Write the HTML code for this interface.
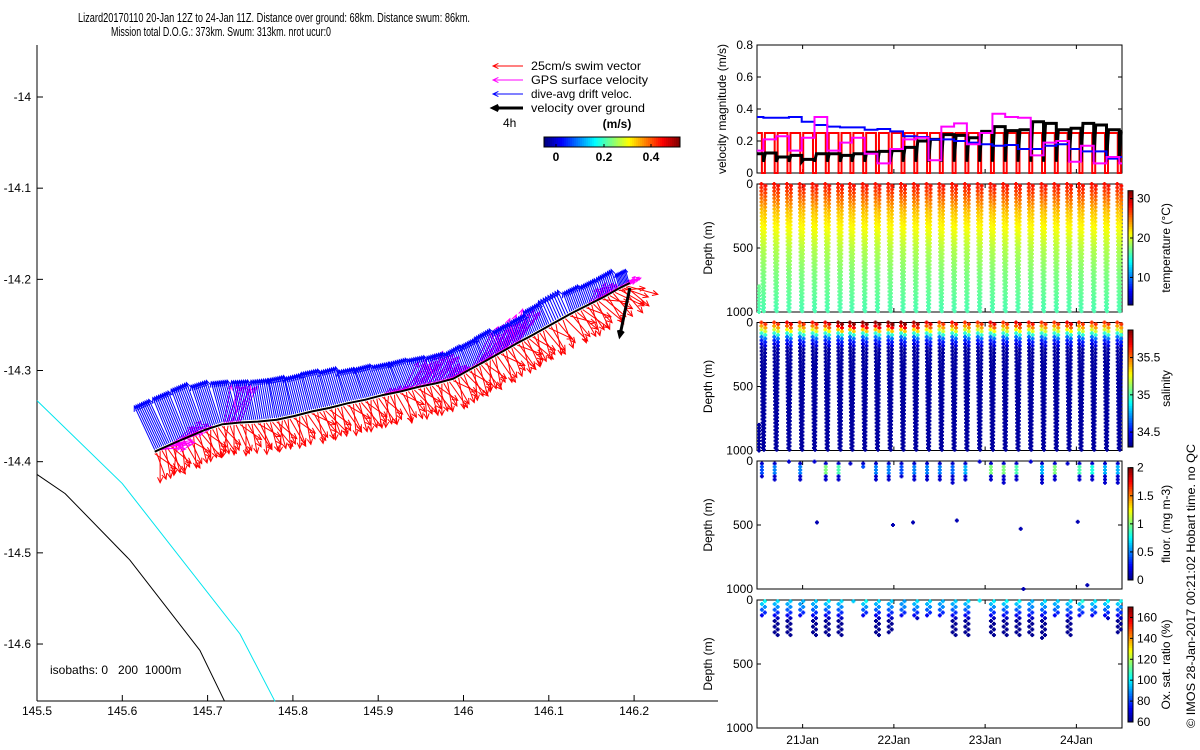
<!DOCTYPE html>
<html><head><meta charset="utf-8">
<style>
html,body{margin:0;padding:0;background:#fff;}
svg{display:block;font-family:"Liberation Sans",sans-serif;}
</style></head>
<body>
<svg id="chart" width="1200" height="750" viewBox="0 0 1200 750" xmlns="http://www.w3.org/2000/svg">
<text x="78" y="22" font-size="12.5" textLength="392" lengthAdjust="spacingAndGlyphs">Lizard20170110 20-Jan 12Z to 24-Jan 11Z. Distance over ground: 68km. Distance swum: 86km.</text>
<text x="111" y="36" font-size="12.5" textLength="220" lengthAdjust="spacingAndGlyphs">Mission total D.O.G.: 373km. Swum: 313km. nrot ucur:0</text>
<g id="map"></g>
<g id="right"></g>
<text transform="translate(1195,728) rotate(-90)" font-size="12" textLength="284" lengthAdjust="spacingAndGlyphs">© IMOS 28-Jan-2017 00:21:02 Hobart time. no QC</text>
</svg>
<script>
// ---------- data ----------
const diveTimes=[20.57,20.71,20.85,20.99,21.13,21.27,21.41,21.54,21.68,21.82,21.96,22.10,22.24,22.38,22.52,22.66,22.80,22.94,23.08,23.22,23.36,23.50,23.64,23.78,23.92,24.05,24.19,24.33,24.47];
const driftSpeed=[0.345,0.345,0.35,0.32,0.30,0.29,0.285,0.285,0.27,0.275,0.26,0.23,0.225,0.21,0.21,0.20,0.19,0.18,0.17,0.175,0.15,0.15,0.17,0.18,0.15,0.135,0.135,0.09,0.10];
const gpsSpeed=[0.21,0.23,0.14,0.22,0.35,0.14,0.19,0.22,0.12,0.06,0.15,0.21,0.22,0.08,0.29,0.31,0.18,0.25,0.37,0.35,0.345,0.11,0.19,0.20,0.07,0.17,0.06,0.10,0.06];
const groundSpeed=[0.125,0.10,0.11,0.085,0.12,0.12,0.11,0.12,0.13,0.135,0.14,0.16,0.20,0.21,0.24,0.235,0.22,0.26,0.29,0.265,0.27,0.32,0.31,0.27,0.28,0.31,0.30,0.27,0.26];
const swimSpeed=0.25;
const startValues={drift:0.35,gps:0.14,ground:0.12};
const diveLon=[145.638,145.657,145.677,145.697,145.717,145.738,145.759,145.781,145.801,145.822,145.843,145.864,145.885,145.905,145.926,145.947,145.968,145.988,146.007,146.025,146.044,146.063,146.081,146.100,146.125,146.144,146.163,146.182,146.195];
const diveLat=[-14.389,-14.381,-14.373,-14.365,-14.359,-14.357,-14.356,-14.354,-14.350,-14.345,-14.341,-14.336,-14.332,-14.327,-14.323,-14.318,-14.314,-14.309,-14.299,-14.290,-14.280,-14.270,-14.261,-14.251,-14.238,-14.229,-14.220,-14.210,-14.204];
const driftDir=[-25,-22,-20,-18,-15,-12,-10,-12,-14,-15,-16,-18,-20,-20,-22,-22,-20,-20,-22,-24,-22,-20,-22,-24,-20,-20,-18,-15,-12];
const swimDir=[150,155,145,150,160,150,145,155,150,140,150,145,150,155,140,145,150,140,145,150,140,135,145,140,130,135,120,110,115];
const gpsDir=[80,60,40,30,20,40,45,50,60,70,60,50,45,60,40,35,50,55,40,35,30,60,50,45,60,40,50,60,20];
const gpsShown=[1,1,0,0,1,0,0,0,0,0,0,0,0,1,1,1,1,0,1,1,1,0,0,0,0,1,1,1,1];
const isoCyanLon=[145.5,145.6,145.738,145.779];
const isoCyanLat=[-14.333,-14.424,-14.589,-14.663];
const isoBlackLon=[145.5,145.533,145.609,145.691,145.720];
const isoBlackLat=[-14.414,-14.435,-14.508,-14.607,-14.663];
const tempDepth=[0,100,200,300,500,700,1000];
const tempVal=[28,25.5,23,21.5,19,17.5,16];
const salSurf=[35.6,35.6,35.7,35.6,35.65,35.7,35.85,35.85,35.85,35.85,35.85,35.85,35.8,35.7,35.6,35.65,35.6,35.6,35.7,35.6,35.7,35.65,35.6,35.6,35.7,35.6,35.6,35.6,35.6];
const fluorMaxDepth=[128,160,0,160,0,160,160,30,45,160,160,135,160,160,160,175,160,0,150,175,160,0,175,160,30,150,150,175,175];
const fluorPeak=[0.4,0.5,0.3,0.5,0.3,1.0,0.9,0.6,0.4,0.5,0.5,0.4,0.5,0.5,0.5,0.45,0.6,0.3,1.0,1.0,0.9,0.3,0.6,1.0,0.3,0.9,0.8,0.6,0.6];
const fluorOutT=[21.157,21.99,22.21,22.69,23.39,23.42,24.015,24.12];
const fluorOutD=[480,500,480,465,530,1000,475,970];
const oxyMaxDepth=[130,286,286,130,286,286,286,20,130,286,270,130,150,130,130,286,286,0,286,286,286,286,300,130,286,130,130,150,270];
const oxySurf=[105,100,98,95,98,102,100,98,105,100,98,92,100,100,95,98,100,95,102,104,104,95,100,98,102,108,102,104,105];
const velTicks=[0,0.2,0.4,0.6,0.8];
const depthTicks=[0,500,1000];
const dateTicks=[21,22,23,24];
const dateLabels=['21Jan','22Jan','23Jan','24Jan'];
const lonTicks=[145.5,145.6,145.7,145.8,145.9,146,146.1,146.2];
const latTicks=[-14,-14.1,-14.2,-14.3,-14.4,-14.5,-14.6];

// ---------- helpers ----------
const NS='http://www.w3.org/2000/svg';
function mk(parent,tag,attrs){const e=document.createElementNS(NS,tag);for(const k in attrs)e.setAttribute(k,attrs[k]);parent.appendChild(e);return e;}
function jet(v){v=Math.max(0,Math.min(1,v));const c=x=>Math.round(255*Math.max(0,Math.min(1,x)));
 return `rgb(${c(1.5-Math.abs(4*v-3))},${c(1.5-Math.abs(4*v-2))},${c(1.5-Math.abs(4*v-1))})`;}
function interp(xs,ys,x){if(x<=xs[0])return ys[0];for(let i=1;i<xs.length;i++){if(x<=xs[i]){const f=(x-xs[i-1])/(xs[i]-xs[i-1]);return ys[i-1]+f*(ys[i]-ys[i-1]);}}return ys[ys.length-1];}

// ---------- map ----------
const map=document.getElementById('map');
const mx=lon=>37+(lon-145.5)*853;
const my=lat=>97+(-14-lat)*911.7;
const PX_PER_MS=140;
function arrow(g,x,y,dx,dy,color,w,name){
 const a=mk(g,'g',{});
 
 
 const x2=x+dx,y2=y+dy;
 mk(a,'line',{x1:x,y1:y,x2:x2,y2:y2,stroke:color,'stroke-width':w});
 const L=Math.hypot(dx,dy)||1,ux=dx/L,uy=dy/L,h=Math.min(6,L*0.3);
 const c=Math.cos(0.45),s=Math.sin(0.45);
 mk(a,'polyline',{points:`${x2-h*(ux*c-uy*s)},${y2-h*(uy*c+ux*s)} ${x2},${y2} ${x2-h*(ux*c+uy*s)},${y2-h*(uy*c-ux*s)}`,fill:'none',stroke:color,'stroke-width':w});
}
mk(map,'line',{x1:37,y1:45,x2:37,y2:701,stroke:'#000'});
mk(map,'line',{x1:37,y1:701,x2:718,y2:701,stroke:'#000'});
lonTicks.forEach(t=>{const x=mx(t);mk(map,'line',{x1:x,y1:701,x2:x,y2:695,stroke:'#000'});
 const tx=mk(map,'text',{x:x,y:715,'font-size':12,'text-anchor':'middle'});tx.textContent=String(t);
 });
latTicks.forEach(t=>{const y=my(t);mk(map,'line',{x1:37,y1:y,x2:43,y2:y,stroke:'#000'});
 const tx=mk(map,'text',{x:31,y:y+4,'font-size':12,'text-anchor':'end'});tx.textContent=String(t);
 });
const cy=mk(map,'polyline',{points:isoCyanLon.map((l,i)=>mx(l)+','+my(isoCyanLat[i])).join(' '),fill:'none',stroke:'#00e5ee','stroke-width':1});

const bk=mk(map,'polyline',{points:isoBlackLon.map((l,i)=>mx(l)+','+my(isoBlackLat[i])).join(' '),fill:'none',stroke:'#000','stroke-width':1});

const iso=mk(map,'text',{x:50,y:674,'font-size':12});iso.textContent='isobaths: 0\u00a0\u00a0 200\u00a0 1000m';

const gRed=mk(map,'g',{});
const gMag=mk(map,'g',{});
const gBlue=mk(map,'g',{});
const SUB=9;
const fan=[-25,10,-10,30,0,-35,20,-5,15];
for(let i=0;i<diveLon.length-1;i++){
 for(let k=0;k<SUB;k++){
  const f=k/SUB;
  const x=mx(diveLon[i]+(diveLon[i+1]-diveLon[i])*f), y=my(diveLat[i]+(diveLat[i+1]-diveLat[i])*f);
  const bs=driftSpeed[i]*PX_PER_MS, ba=driftDir[i]*Math.PI/180;
  arrow(gBlue,x,y-2,bs*Math.sin(ba),-bs*Math.cos(ba),'#0000ff',1,'drift-arrow');
  if(k%3!==2){const ra=(swimDir[i]+fan[k])*Math.PI/180, rs=swimSpeed*PX_PER_MS*(0.75+0.05*(k%4));
  arrow(gRed,x,y+2,rs*Math.sin(ra),-rs*Math.cos(ra),'#ff0000',1,'swim-arrow');}
  if(gpsShown[i]){const ga=(gpsDir[i]+fan[k]*0.4)*Math.PI/180, gs=gpsSpeed[i]*PX_PER_MS*0.8;
   arrow(gMag,x+2,y-1,gs*Math.sin(ga),-gs*Math.cos(ga),'#ff00ff',1,'gps-arrow');}
 }
}
const trk=mk(map,'polyline',{points:diveLon.map((l,i)=>mx(l)+','+my(diveLat[i])).join(' '),fill:'none',stroke:'#000','stroke-width':2});

arrow(map,mx(diveLon[28]),my(diveLat[28])+5,-10,48,'#000',3,'ground-velocity-arrow');
const leg=[['#ff0000','25cm/s swim vector',1],['#ff00ff','GPS surface velocity',1],['#0000ff','dive-avg drift veloc.',1],['#000','velocity over ground',3]];
leg.forEach((l,i)=>{const y=66+i*14;arrow(map,523,y,-30,0,l[0],l[2],'legend-arrow');
 const t=mk(map,'text',{x:531,y:y+4,'font-size':12,textLength:(i==0?110:i==1?117:i==2?101:114),lengthAdjust:'spacingAndGlyphs'});t.textContent=l[1];
 });
const t4=mk(map,'text',{x:503,y:127,'font-size':12});t4.textContent='4h';
const tu=mk(map,'text',{x:617,y:128,'font-size':12,'font-weight':'bold','text-anchor':'middle'});tu.textContent='(m/s)';

const cbM=mk(map,'g',{});
for(let i=0;i<68;i++)mk(cbM,'rect',{x:544+i*2,y:137,width:2.2,height:10,fill:jet(i/67)});
mk(cbM,'rect',{x:544,y:137,width:136,height:10,fill:'none',stroke:'#000'});
[[0,556],[0.2,604],[0.4,651]].forEach(p=>{mk(cbM,'line',{x1:p[1],y1:147,x2:p[1],y2:144,stroke:'#000'});
 const t=mk(cbM,'text',{x:p[1],y:161,'font-size':12,'font-weight':'bold','text-anchor':'middle'});t.textContent=String(p[0]);});

// ---------- right panels ----------
const R=document.getElementById('right');
const X0=757,X1=1122;
const tx=d=>X0+(d-20.5)*(X1-X0)/4;
function panel(top,name){const g=mk(R,'g',{});return g;}
function frame(g,top,h,ticks,labelFn,valToY,ylabel,ylx){
 mk(g,'rect',{x:X0,y:top,width:X1-X0,height:h,fill:'none',stroke:'#000'});
 ticks.forEach(t=>{const y=valToY(t);mk(g,'line',{x1:X0,y1:y,x2:X0+4,y2:y,stroke:'#000'});mk(g,'line',{x1:X1,y1:y,x2:X1-4,y2:y,stroke:'#000'});
  const e=mk(g,'text',{x:X0-4,y:y+4,'font-size':12,'text-anchor':'end'});e.textContent=labelFn(t);
  });
 dateTicks.forEach(d=>{const x=tx(d);mk(g,'line',{x1:x,y1:top+h,x2:x,y2:top+h-4,stroke:'#000'});mk(g,'line',{x1:x,y1:top,x2:x,y2:top+4,stroke:'#000'});});
 const yl=mk(g,'text',{transform:`translate(${ylx},${top+h/2}) rotate(-90)`,'font-size':12,'text-anchor':'middle'});yl.textContent=ylabel;
 
}
function plus(g,x,y,c){mk(g,'rect',{x:x-2,y:y-1,width:4,height:2,fill:c});mk(g,'rect',{x:x-1,y:y-2,width:2,height:4,fill:c});}
function colorbar(g,top,bot,vmin,vmax,ticks,label){
 const cb=mk(g,'g',{});
 const n=48,h=(bot-top)/n;for(let i=0;i<n;i++)mk(cb,'rect',{x:1128,y:bot-(i+1)*h,width:5,height:h+0.4,fill:jet((i+0.5)/n)});
 mk(cb,'rect',{x:1128,y:top,width:5,height:bot-top,fill:'none',stroke:'#000'});
 ticks.forEach(t=>{const y=bot-(t-vmin)/(vmax-vmin)*(bot-top);mk(cb,'line',{x1:1133,y1:y,x2:1130,y2:y,stroke:'#000'});
  const e=mk(cb,'text',{x:1137,y:y+4,'font-size':12});e.textContent=String(t);});
 const l=mk(cb,'text',{transform:`translate(1170,${(top+bot)/2}) rotate(-90)`,'font-size':12,'text-anchor':'middle'});l.textContent=label;
 
}
const pv=panel(45,'velocity-panel');
const vy=v=>173-v*160;
frame(pv,45,128,velTicks,t=>String(t),vy,'velocity magnitude (m/s)',726);
function stepLine(vals,start,color,w,name,dipTo){
 let pts=`${X0},${vy(start)} ${tx(diveTimes[0])},${vy(start)}`;
 vals.forEach((v,i)=>{const t0=diveTimes[i],t1=i<diveTimes.length-1?diveTimes[i+1]:24.5;
  if(dipTo!==undefined)pts+=` ${tx(t0)},${vy(dipTo)} ${tx(t0)+2},${vy(v)}`;else pts+=` ${tx(t0)},${vy(v)}`;
  pts+=` ${tx(t1)},${vy(v)}`;});
 const e=mk(pv,'polyline',{points:pts,fill:'none',stroke:color,'stroke-width':w,'stroke-linejoin':'miter'});
 
}
(function(){let pts=`${X0},${vy(swimSpeed)}`;diveTimes.forEach(t=>{const x=tx(t);pts+=` ${x-1.5},${vy(swimSpeed)} ${x-1.5},${vy(0)} ${x+1.5},${vy(0)} ${x+1.5},${vy(swimSpeed)}`;});pts+=` ${X1},${vy(swimSpeed)}`;
 const e=mk(pv,'polyline',{points:pts,fill:'none',stroke:'#ff0000','stroke-width':2});})();
stepLine(groundSpeed,startValues.ground,'#000',3,'ground-speed-line',0.07);
stepLine(driftSpeed,startValues.drift,'#0000ff',2,'drift-speed-line');
stepLine(gpsSpeed,startValues.gps,'#ff00ff',2,'gps-speed-line');

function dy(top,d){return top+d/1000*128;}
const pt=panel(184,'temperature-panel');
frame(pt,184,128,depthTicks,String,d=>dy(184,d),'Depth (m)',712);
diveTimes.forEach((t,i)=>{for(let d=0;d<=1000;d+=28){const c=jet((interp(tempDepth,tempVal,d)-3)/29);
 plus(pt,tx(t)-2+d/1000*1.5,dy(184,d),c);plus(pt,tx(t)+2-d/1000*1.5,dy(184,d+14),c);}});
for(let d=800;d<=1000;d+=25)plus(pt,X0+2,dy(184,d),jet((interp(tempDepth,tempVal,d)-3)/29));
colorbar(pt,190.7,305,3,32,[10,20,30],'temperature (°C)');
const ps=panel(322.5,'salinity-panel');
frame(ps,322.5,128,depthTicks,String,d=>dy(322.5,d),'Depth (m)',712);
diveTimes.forEach((t,i)=>{const sd=[0,40,80,120,200,1000],sv=[salSurf[i],salSurf[i]-0.25,35.0,34.6,34.35,34.35];
 for(let d=0;d<=1000;d+=28){const c=jet((interp(sd,sv,d)-34.3)/1.57);plus(ps,tx(t)-2+d/1000*1.5,dy(322.5,d),c);plus(ps,tx(t)+2-d/1000*1.5,dy(322.5,d+14),c);}});
for(let d=800;d<=1000;d+=25)plus(ps,X0+2,dy(322.5,d),jet(0.03));
colorbar(ps,330,447,34.3,35.87,[34.5,35,35.5],'salinity');
const pf=panel(461,'fluorescence-panel');
frame(pf,461,128,depthTicks,String,d=>dy(461,d),'Depth (m)',712);
diveTimes.forEach((t,i)=>{const m=fluorMaxDepth[i];if(m===0){plus(pf,tx(t),dy(461,5),jet(0.08));return;}
 for(let d=20;d<=m;d+=25){const v=d<110&&d>40?fluorPeak[i]:0.15;plus(pf,tx(t)+((d/25)%2?-1.5:1.5),dy(461,d),jet(v/2));}});
fluorOutT.forEach((t,i)=>plus(pf,tx(t),dy(461,fluorOutD[i]),jet(0.05)));
colorbar(pf,467.7,580,0,2,[0,0.5,1,1.5,2],'fluor. (mg m-3)');
const po=panel(600,'oxygen-panel');
frame(po,600,128,depthTicks,String,d=>dy(600,d),'Depth (m)',712);
diveTimes.forEach((t,i)=>{const m=oxyMaxDepth[i];if(m===0){plus(po,tx(t),dy(600,5),jet((100-60)/110));return;}
 for(let d=10;d<=m;d+=22){const v=interp([0,60,110,160],[oxySurf[i],88,75,62],d);plus(po,tx(t)+((Math.round(d/22))%2?-1.5:1.5),dy(600,d),jet((v-60)/110));}});
colorbar(po,607,722,60,170,[60,80,100,120,140,160],'Ox. sat. ratio (%)');
dateTicks.forEach((d,i)=>{const e=mk(po,'text',{x:tx(d),y:744,'font-size':12,'text-anchor':'middle'});e.textContent=dateLabels[i];
 });
</script>
</body></html>
